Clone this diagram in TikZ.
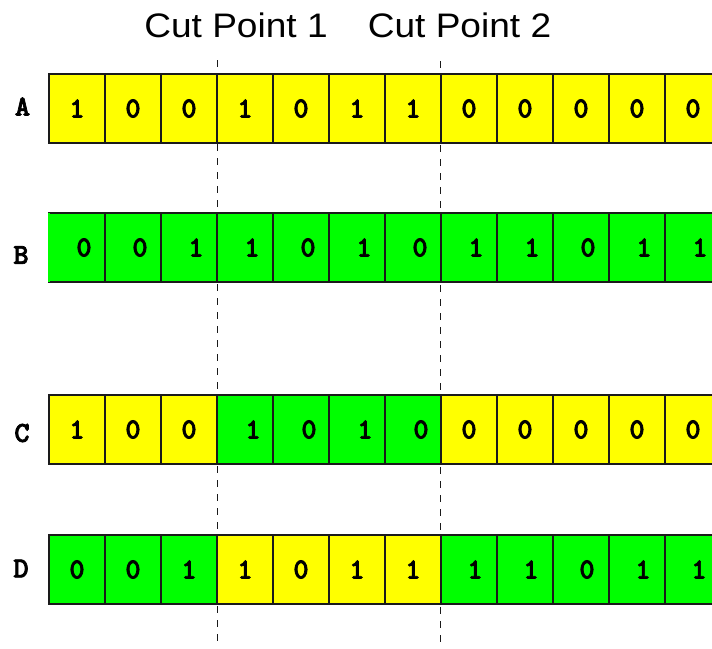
\documentclass[tikz,border=0pt]{standalone}
\usepackage{fontspec}
\newfontfamily\arialfont{Liberation Sans}
\newfontfamily\monobf{lmmonolt10-bold}[Extension=.otf, FakeBold=2.5]
\definecolor{cyel}{HTML}{FFFF00}
\definecolor{cgrn}{HTML}{00FF00}
\definecolor{cline}{HTML}{1A1A1A}
\tikzset{
  cell/.style={draw=cline, line width=1.3pt, minimum width=56pt, minimum height=69pt, inner sep=0pt, outer sep=0pt, anchor=north west},
  bit/.style={font=\monobf\fontsize{29}{29}\selectfont, inner sep=0pt, text=black},
  rowlab/.style={font=\monobf\fontsize{29}{29}\selectfont, inner sep=0pt, text=black},
  cutline/.style={draw=cline, line width=1.8pt, dash pattern=on 6.5pt off 7.5pt},
  cuttitle/.style={font=\arialfont\fontsize{34}{34}\selectfont, inner sep=0pt, anchor=base, text=black}
}
\begin{document}
\begin{tikzpicture}[x=1pt,y=-1pt]
\useasboundingbox (0,0) rectangle (712,648);
\clip (0,0) rectangle (712,648);
\fill[white] (0,0) rectangle (712,648);

% titles
\node[cuttitle] (t1) at (236,37) {\scalebox{1.09}[1]{Cut Point 1}};
\node[cuttitle] (t2) at (459.5,37) {\scalebox{1.09}[1]{Cut Point 2}};

% cut lines
\coordinate (c1top) at (217.5,60);
\coordinate (c1bot) at (217.5,648);
\coordinate (c2top) at (440.5,61);
\coordinate (c2bot) at (440.5,648);
\draw[cutline] (c1top) -- (c1bot);
\draw[cutline] (c2top) -- (c2bot);

% row A
\foreach \b/\c/\s [count=\i] in {1/cyel/0,0/cyel/0,0/cyel/0,1/cyel/0,0/cyel/0,1/cyel/0,1/cyel/0,0/cyel/0,0/cyel/0,0/cyel/0,0/cyel/0,0/cyel/0}{
  \node[cell, fill=\c] (A\i) at ({49+56*(\i-1)},74) {};
  \node[bit] (tA\i) at ([xshift=\s pt]A\i.center) {\b};
}
% row B
\foreach \b/\c/\s [count=\i] in {0/cgrn/7,0/cgrn/7,1/cgrn/7,1/cgrn/7,0/cgrn/7,1/cgrn/7,0/cgrn/7,1/cgrn/7,1/cgrn/7,0/cgrn/7,1/cgrn/7,1/cgrn/7}{
  \node[cell, fill=\c] (B\i) at ({49+56*(\i-1)},213) {};
  \node[bit] (tB\i) at ([xshift=\s pt]B\i.center) {\b};
}
\draw[cgrn, line width=1.3pt] (B1.north west) -- (B1.south west);
% row C
\foreach \b/\c/\s [count=\i] in {1/cyel/0,0/cyel/0,0/cyel/0,1/cgrn/8,0/cgrn/8,1/cgrn/8,0/cgrn/8,0/cyel/0,0/cyel/0,0/cyel/0,0/cyel/0,0/cyel/0}{
  \node[cell, fill=\c] (C\i) at ({49+56*(\i-1)},395) {};
  \node[bit] (tC\i) at ([xshift=\s pt]C\i.center) {\b};
}
% row D
\foreach \b/\c/\s [count=\i] in {0/cgrn/0,0/cgrn/0,1/cgrn/0,1/cyel/0,0/cyel/0,1/cyel/0,1/cyel/0,1/cgrn/6,1/cgrn/6,0/cgrn/6,1/cgrn/6,1/cgrn/6}{
  \node[cell, fill=\c] (D\i) at ({49+56*(\i-1)},535) {};
  \node[bit] (tD\i) at ([xshift=\s pt]D\i.center) {\b};
}

% row labels
\node[rowlab] (lA) at (22.5,106.5) {A};
\node[rowlab] (lB) at (21,255) {B};
\node[rowlab] (lC) at (22,433) {C};
\node[rowlab] (lD) at (21,568.5) {D};
\end{tikzpicture}
\end{document}
